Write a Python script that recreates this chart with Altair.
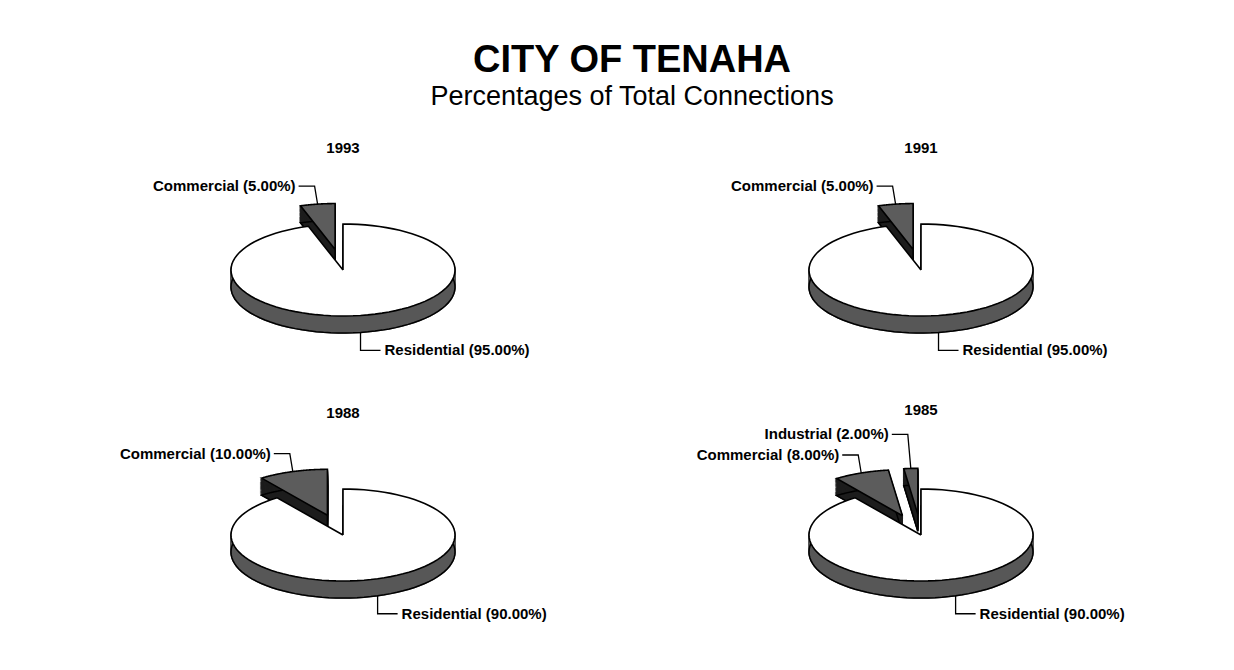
import altair as alt
import pandas as pd

# ---------------- data ----------------
years = [1993, 1991, 1988, 1985]
categories = ["Residential", "Commercial", "Industrial"]
residential = [95.0, 95.0, 90.0, 90.0]
commercial = [5.0, 5.0, 10.0, 8.0]
industrial = [0.0, 0.0, 0.0, 2.0]

rows = []
for i, yr in enumerate(years):
    for k, (cat, vals) in enumerate(zip(categories, [residential, commercial, industrial])):
        if vals[i] > 0:
            rows.append({"year": yr, "category": cat, "value": vals[i], "k": k})
df = pd.DataFrame(rows)

# ---------------- geometry (pixels) ----------------
A, B, D = 112, 46, 17      # ellipse semi-axes and pie depth
E = 0.45                   # explode fraction
N, L = 90, 16              # arc resolution, side layers
W, H = 500, 210
XD, YD = [-250, 250], [-105, 105]
FONT = "Liberation Sans"

xs = alt.Scale(domain=XD, nice=False, zero=False)
ys = alt.Scale(domain=YD, nice=False, zero=False)


def base():
    return (
        alt.Chart()
        .transform_window(cum="sum(value)", groupby=["year"],
                          sort=[alt.SortField("k")], frame=[None, 0])
        .transform_joinaggregate(total="sum(value)", groupby=["year"])
        .transform_calculate(
            t0="2*PI*(datum.cum - datum.value)/datum.total",
            t1="2*PI*datum.cum/datum.total",
            res="datum.category === 'Residential' ? 1 : 0",
        )
        .transform_calculate(
            tm="(datum.t0 + datum.t1)/2",
            e=f"datum.res ? 0 : {E}",
        )
        .transform_calculate(
            cx=f"datum.e*{A}*sin(datum.tm)",
            cy=f"datum.e*{B}*cos(datum.tm)",
        )
    )


def slices(ch):
    return (
        ch.transform_calculate(pts=f"sequence(0, {N + 3})")
        .transform_flatten(["pts"])
        .transform_calculate(
            ang=f"datum.t0 + (datum.t1 - datum.t0)*clamp(datum.pts - 1, 0, {N})/{N}",
            edge=f"(datum.pts > 0 && datum.pts < {N + 2}) ? 1 : 0",
        )
        .transform_calculate(
            px=f"datum.cx + datum.edge*{A}*sin(datum.ang)",
            py=f"datum.cy + datum.edge*{B}*cos(datum.ang)",
        )
    )


def side_layer(filt, color):
    return (
        slices(base().transform_filter(filt))
        .transform_calculate(lv=f"sequence(1, {L + 1})")
        .transform_flatten(["lv"])
        .transform_calculate(py2=f"datum.py - {D}*datum.lv/{L}")
        .mark_line(fill=color, stroke=color, strokeWidth=1.5)
        .encode(
            x=alt.X("px:Q", scale=xs, axis=None),
            y=alt.Y("py2:Q", scale=ys, axis=None),
            order="pts:Q",
            detail=["category:N", "lv:Q"],
        )
    )


def outline_bottom(filt):
    return (
        slices(base().transform_filter(filt))
        .transform_calculate(py2=f"datum.py - {D}")
        .mark_line(stroke="black", strokeWidth=1.5)
        .encode(
            x=alt.X("px:Q", scale=xs, axis=None),
            y=alt.Y("py2:Q", scale=ys, axis=None),
            order="pts:Q",
            detail="category:N",
        )
    )


def top_layer(filt, color):
    return (
        slices(base().transform_filter(filt))
        .mark_line(fill=color, stroke="black", strokeWidth=1.6, strokeJoin="miter")
        .encode(
            x=alt.X("px:Q", scale=xs, axis=None),
            y=alt.Y("py:Q", scale=ys, axis=None),
            order="pts:Q",
            detail="category:N",
        )
    )


def label_base():
    return (
        base()
        .transform_calculate(ax=f"datum.cx + {A}*sin(datum.tm)")
        .transform_calculate(
            ay=f"datum.res ? ({B}*cos(datum.tm) - {D}) : (datum.cy + {B}*cos(datum.tm))",
            lift="datum.category === 'Industrial' ? 34 : 18",
        )
        .transform_calculate(
            bx="datum.res ? datum.ax : datum.ax - 3",
            by="datum.res ? datum.ay - 18 : datum.ay + datum.lift",
        )
        .transform_calculate(
            ex="datum.res ? datum.bx + 20 : datum.bx - 16",
            ey="datum.by",
            lab="datum.category + ' (' + format(datum.value, '.2f') + '%)'",
        )
    )


leaders = (
    label_base()
    .transform_calculate(seg="sequence(0, 3)")
    .transform_flatten(["seg"])
    .transform_calculate(
        lx="datum.seg == 0 ? datum.ax : (datum.seg == 1 ? datum.bx : datum.ex)",
        ly="datum.seg == 0 ? datum.ay : (datum.seg == 1 ? datum.by : datum.ey)",
    )
    .mark_line(stroke="black", strokeWidth=1.3)
    .encode(
        x=alt.X("lx:Q", scale=xs, axis=None),
        y=alt.Y("ly:Q", scale=ys, axis=None),
        order="seg:Q",
        detail="category:N",
    )
)

text_right = (
    label_base()
    .transform_filter("datum.res == 1")
    .transform_calculate(tx="datum.ex + 4")
    .mark_text(align="left", baseline="middle", font=FONT, fontSize=15,
               fontWeight="bold", color="black")
    .encode(x=alt.X("tx:Q", scale=xs, axis=None),
            y=alt.Y("ey:Q", scale=ys, axis=None), text="lab:N")
)

text_left = (
    label_base()
    .transform_filter("datum.res == 0")
    .transform_calculate(tx="datum.ex - 3")
    .mark_text(align="right", baseline="middle", font=FONT, fontSize=15,
               fontWeight="bold", color="black")
    .encode(x=alt.X("tx:Q", scale=xs, axis=None),
            y=alt.Y("ey:Q", scale=ys, axis=None), text="lab:N")
)

NONRES = "datum.res == 0"
RES = "datum.res == 1"

layers = alt.layer(
    side_layer(NONRES, "#1c1c1c"),
    outline_bottom(NONRES),
    top_layer(NONRES, "#5c5c5c"),
    side_layer(RES, "#575757"),
    outline_bottom(RES),
    top_layer(RES, "white"),
    leaders,
    text_left,
    text_right,
    data=df,
).properties(width=W, height=H)

chart = (
    layers.facet(
        facet=alt.Facet(
            "year:O",
            sort=years,
            title=None,
            header=alt.Header(labelFont=FONT, labelFontSize=15, labelFontWeight="bold",
                              labelColor="black", labelPadding=9),
        ),
        columns=2,
        spacing={"row": 28, "column": 78},
    )
    .properties(
        title=alt.TitleParams(
            text="CITY OF TENAHA",
            subtitle="Percentages of Total Connections",
            font=FONT, fontSize=38, fontWeight="bold", color="black",
            subtitleFont=FONT, subtitleFontSize=27, subtitleColor="black",
            subtitlePadding=4, anchor="middle", offset=31,
        ),
        padding={"left": 85, "top": 34, "right": 10, "bottom": 10},
    )
    .configure(background="white")
    .configure_view(stroke=None)
)

chart.save("out.html", embed_options={"renderer": "svg", "actions": False})
